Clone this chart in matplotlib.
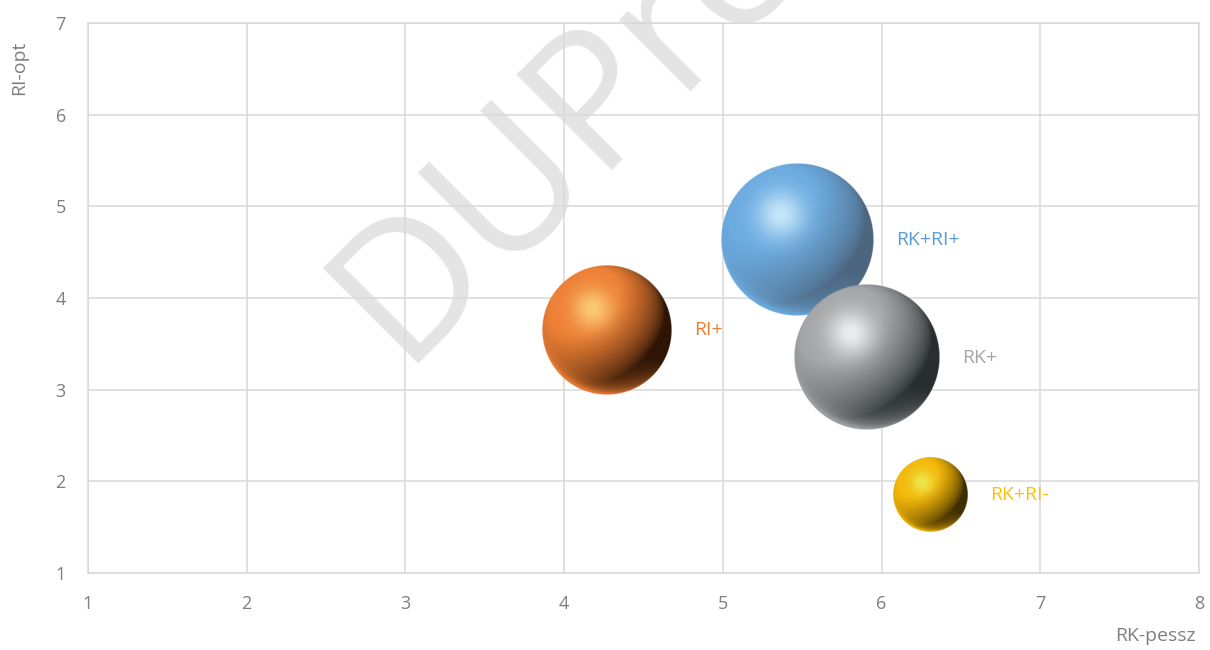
import numpy as np
import matplotlib
matplotlib.use("Agg")
import matplotlib.pyplot as plt

# ---- data ----
labels = ["RI+", "RK+RI+", "RK+", "RK+RI-"]
rk_pessz = [4.27, 5.47, 5.91, 6.31]
ri_opt = [3.65, 4.63, 3.35, 1.85]
sizes = [42, 58, 53, 14]
colors = ["#ED7D31", "#5B9BD5", "#A5A5A5", "#FFC000"]
x_ticks = [1, 2, 3, 4, 5, 6, 7, 8]
y_ticks = [1, 2, 3, 4, 5, 6, 7]

# sphere shading palettes (base, highlight, dark edge)
shades = {
    "RI+": ((0.93, 0.50, 0.21), (1.0, 0.86, 0.52), (0.18, 0.08, 0.02)),
    "RK+RI+": ((0.42, 0.67, 0.88), (0.86, 0.96, 1.0), (0.30, 0.40, 0.50)),
    "RK+": ((0.64, 0.65, 0.66), (1.0, 1.0, 1.0), (0.16, 0.18, 0.19)),
    "RK+RI-": ((0.96, 0.72, 0.04), (0.92, 0.95, 0.36), (0.25, 0.18, 0.0)),
}

BUBBLE_SCALE = 7.2  # points per sqrt(size)
FONT = "Open Sans"
TXT = "#7F7F7F"
GRID = "#D9D9D9"

plt.rcParams["font.family"] = [FONT, "DejaVu Sans"]

fig = plt.figure(figsize=(12.1, 6.5), dpi=100)
fig.patch.set_facecolor("white")
ax = fig.add_axes([88 / 1210, 77 / 650, 1111 / 1210, 550 / 650])
ax.set_facecolor("none")

# watermark
fig.text(400 / 1210, (650 - 364) / 650, "DUPress", rotation=45,
         rotation_mode="anchor", ha="left", va="baseline",
         fontsize=136, color="#E4E4E4", zorder=-5,
         transform=fig.transFigure)

ax.set_xlim(1, 8)
ax.set_ylim(1, 7)
ax.set_xticks(x_ticks)
ax.set_yticks(y_ticks)
ax.grid(True, color=GRID, linewidth=1.1, zorder=0)
ax.set_axisbelow(True)
for sp in ax.spines.values():
    sp.set_color(GRID)
    sp.set_linewidth(1.1)
ax.tick_params(axis="both", length=0, labelsize=13, labelcolor=TXT)
ax.tick_params(axis="x", pad=16)
ax.tick_params(axis="y", pad=16)

ax.set_xlabel("RK-pessz", fontsize=14, color=TXT, ha="right", va="center")
ax.xaxis.set_label_coords(0.997, -0.114)
ax.set_ylabel("RI-opt", fontsize=14, color=TXT, va="center", ha="center")
ax.yaxis.set_label_coords(-0.062, 0.918)


def sphere_rgba(base, hi, dark, n=400):
    base = np.array(base); hi = np.array(hi); dark = np.array(dark)
    yy, xx = np.mgrid[1:-1:n * 1j, -1:1:n * 1j]
    rr = np.sqrt(xx ** 2 + yy ** 2)
    z = np.sqrt(np.clip(1 - rr ** 2, 0, 1))
    L = np.array([-0.45, 0.55, 0.70]); L = L / np.linalg.norm(L)
    d = np.clip(xx * L[0] + yy * L[1] + z * L[2], 0, 1)
    t = np.clip(d * 1.25, 0, 1) ** 0.8
    col = dark[None, None, :] * (1 - t[..., None]) + base[None, None, :] * t[..., None]
    rim = np.clip(-(xx * 0.5 + yy * 0.87), 0, 1) * (1 - z) ** 1.3
    rim = np.clip(rim * 1.4, 0, 0.9)[..., None]
    col = col * (1 - rim) + (base * 1.02)[None, None, :] * rim
    g = np.exp(-((xx + 0.22) ** 2 + (yy - 0.33) ** 2) / (2 * 0.22 ** 2))[..., None] * 0.8
    col = col * (1 - g) + hi[None, None, :] * g
    alpha = np.clip((1 - rr) * n / 3.0, 0, 1)
    rgba = np.dstack([np.clip(col, 0, 1), alpha])
    return rgba


fig.canvas.draw()
bbox = ax.get_window_extent()
px_per_x = bbox.width / (ax.get_xlim()[1] - ax.get_xlim()[0])
px_per_y = bbox.height / (ax.get_ylim()[1] - ax.get_ylim()[0])

for i, (lab, x, y, s, c) in enumerate(zip(labels, rk_pessz, ri_opt, sizes, colors)):
    r_pt = BUBBLE_SCALE * np.sqrt(s)
    r_px = r_pt * fig.dpi / 72.0
    rx = r_px / px_per_x
    ry = r_px / px_per_y
    base, hi, dark = shades[lab]
    ax.imshow(sphere_rgba(base, hi, dark), extent=[x - rx, x + rx, y - ry, y + ry],
              aspect="auto", interpolation="antialiased", zorder=3 + i)
    ax.annotate(lab, (x, y), xytext=(r_pt + 16, 0), textcoords="offset points",
                ha="left", va="center", fontsize=14, color=c, zorder=10)

ax.set_xlim(1, 8)
ax.set_ylim(1, 7)

fig.savefig("out.png", dpi=100, facecolor="white")
